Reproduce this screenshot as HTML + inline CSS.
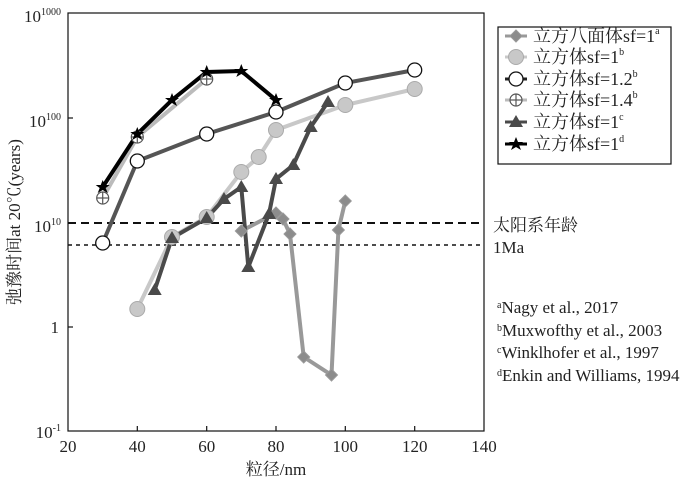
<!DOCTYPE html>
<html><head><meta charset="utf-8"><style>
html,body{margin:0;padding:0;background:#fff}
svg{display:block}
text{font-family:"Liberation Serif","Noto Serif CJK SC",serif;fill:#222}
</style></head><body>
<svg width="700" height="482" viewBox="0 0 700 482" xmlns="http://www.w3.org/2000/svg">
<defs>
<g id="dia"><polygon points="0,-6 6,0 0,6 -6,0" fill="#8c8c8c" stroke="#999" stroke-width="1"/></g>
<g id="lc"><circle r="7.5" fill="#c8c8c8" stroke="#aaa" stroke-width="1"/></g>
<g id="oc"><circle r="7" fill="#fff" stroke="#111" stroke-width="1.3"/></g>
<g id="pc"><circle r="6" fill="#fff" stroke="#555" stroke-width="1.2"/><line x1="-6" y1="0" x2="6" y2="0" stroke="#555" stroke-width="1.2"/><line x1="0" y1="-6" x2="0" y2="6" stroke="#555" stroke-width="1.2"/></g>
<g id="tri"><polygon points="0,-7 7,5 -7,5" fill="#4a4a4a"/></g>
<g id="star"><polygon points="0,-7 2,-2 7,-2 3,1 5,6 0,3 -5,6 -3,1 -7,-2 -2,-2" fill="#000"/></g>
</defs>
<rect x="68" y="13" width="416" height="418" fill="none" stroke="#111" stroke-width="1.2"/>
<g stroke="#111" stroke-width="1.2">
<line x1="68" y1="118" x2="73" y2="118"/><line x1="68" y1="223" x2="73" y2="223"/><line x1="68" y1="327" x2="73" y2="327"/>
<line x1="137.3" y1="431" x2="137.3" y2="426"/><line x1="206.7" y1="431" x2="206.7" y2="426"/><line x1="276" y1="431" x2="276" y2="426"/><line x1="345.3" y1="431" x2="345.3" y2="426"/><line x1="414.7" y1="431" x2="414.7" y2="426"/>
</g>
<g font-size="17" text-anchor="end">
<text x="61" y="22">10<tspan font-size="10" dy="-7">1000</tspan></text>
<text x="61" y="127">10<tspan font-size="10" dy="-7">100</tspan></text>
<text x="61" y="232">10<tspan font-size="10" dy="-7">10</tspan></text>
<text x="59" y="333">1</text>
<text x="61" y="438">10<tspan font-size="10" dy="-7">-1</tspan></text>
</g>
<g font-size="17" text-anchor="middle">
<text x="68" y="452">20</text><text x="137.3" y="452">40</text><text x="206.7" y="452">60</text><text x="276" y="452">80</text><text x="345.3" y="452">100</text><text x="414.7" y="452">120</text><text x="484" y="452">140</text>
<text x="276" y="475">粒径/nm</text>
</g>
<text transform="translate(20,222) rotate(-90)" font-size="17" text-anchor="middle">弛豫时间at 20℃(years)</text>
<line x1="68" y1="223" x2="484" y2="223" stroke="#111" stroke-width="2" stroke-dasharray="8,5"/>
<line x1="68" y1="245" x2="484" y2="245" stroke="#111" stroke-width="1.5" stroke-dasharray="4,4"/>
<polyline fill="none" stroke="#c8c8c8" stroke-width="4" points="137.3,309 172,237 206.7,217 241.3,172 258.7,157 276,130 345.3,105 414.7,89"/>
<polyline fill="none" stroke="#bbb" stroke-width="4" points="102.7,198 137.3,137 206.7,79"/>
<polyline fill="none" stroke="#555" stroke-width="4" points="102.7,243 137.3,161 206.7,134 276,112 345.3,83 414.7,70"/>
<polyline fill="none" stroke="#999" stroke-width="4" points="241.3,231 276,213 283,219 290,234 303.7,357 331.5,375 338.4,230 345.3,201"/>
<polyline fill="none" stroke="#4a4a4a" stroke-width="4" points="154.7,290 172,238 206.7,218 224,199 241.3,187 248.3,267 269,214 276,179 293.3,165 310.7,127 328,102"/>
<polyline fill="none" stroke="#000" stroke-width="4" points="102.7,187 137.3,134 172,100 206.7,72 241.3,71 276,100"/>
<g>
<use href="#lc" x="137.3" y="309"/><use href="#lc" x="172" y="237"/><use href="#lc" x="206.7" y="217"/><use href="#lc" x="241.3" y="172"/><use href="#lc" x="258.7" y="157"/><use href="#lc" x="276" y="130"/><use href="#lc" x="345.3" y="105"/><use href="#lc" x="414.7" y="89"/>
<use href="#pc" x="102.7" y="198"/><use href="#pc" x="137.3" y="137"/><use href="#pc" x="206.7" y="79"/>
<use href="#oc" x="102.7" y="243"/><use href="#oc" x="137.3" y="161"/><use href="#oc" x="206.7" y="134"/><use href="#oc" x="276" y="112"/><use href="#oc" x="345.3" y="83"/><use href="#oc" x="414.7" y="70"/>
<use href="#dia" x="241.3" y="231"/><use href="#dia" x="276" y="213"/><use href="#dia" x="283" y="219"/><use href="#dia" x="290" y="234"/><use href="#dia" x="303.7" y="357"/><use href="#dia" x="331.5" y="375"/><use href="#dia" x="338.4" y="230"/><use href="#dia" x="345.3" y="201"/>
<use href="#tri" x="154.7" y="290"/><use href="#tri" x="172" y="238"/><use href="#tri" x="206.7" y="218"/><use href="#tri" x="224" y="199"/><use href="#tri" x="241.3" y="187"/><use href="#tri" x="248.3" y="267"/><use href="#tri" x="269" y="214"/><use href="#tri" x="276" y="179"/><use href="#tri" x="293.3" y="165"/><use href="#tri" x="310.7" y="127"/><use href="#tri" x="328" y="102"/>
<use href="#star" x="102.7" y="187"/><use href="#star" x="137.3" y="134"/><use href="#star" x="172" y="100"/><use href="#star" x="206.7" y="72"/><use href="#star" x="241.3" y="71"/><use href="#star" x="276" y="100"/>
</g>
<rect x="498" y="27" width="173" height="137" fill="#fff" stroke="#111" stroke-width="1.2"/>
<g>
<line x1="505" y1="36" x2="527" y2="36" stroke="#999" stroke-width="3"/><use href="#dia" x="516" y="36"/>
<line x1="505" y1="57" x2="527" y2="57" stroke="#c8c8c8" stroke-width="3"/><use href="#lc" x="516" y="57"/>
<line x1="505" y1="79" x2="527" y2="79" stroke="#222" stroke-width="3"/><use href="#oc" x="516" y="79"/>
<line x1="505" y1="100" x2="527" y2="100" stroke="#bbb" stroke-width="3"/><use href="#pc" x="516" y="100"/>
<line x1="505" y1="122" x2="527" y2="122" stroke="#4a4a4a" stroke-width="3"/><use href="#tri" x="516" y="122"/>
<line x1="505" y1="144" x2="527" y2="144" stroke="#000" stroke-width="3"/><use href="#star" x="516" y="144"/>
</g>
<g font-size="18">
<text x="533" y="42">立方八面体sf=1<tspan font-size="10" dy="-8">a</tspan></text>
<text x="533" y="63">立方体sf=1<tspan font-size="10" dy="-8">b</tspan></text>
<text x="533" y="85">立方体sf=1.2<tspan font-size="10" dy="-8">b</tspan></text>
<text x="533" y="106">立方体sf=1.4<tspan font-size="10" dy="-8">b</tspan></text>
<text x="533" y="128">立方体sf=1<tspan font-size="10" dy="-8">c</tspan></text>
<text x="533" y="150">立方体sf=1<tspan font-size="10" dy="-8">d</tspan></text>
</g>
<g font-size="17">
<text x="493" y="231">太阳系年龄</text>
<text x="493" y="253">1Ma</text>
<text x="497" y="313"><tspan font-size="10" dy="-5">a</tspan><tspan dy="5">Nagy et al., 2017</tspan></text>
<text x="497" y="336"><tspan font-size="10" dy="-5">b</tspan><tspan dy="5">Muxwofthy et al., 2003</tspan></text>
<text x="497" y="358"><tspan font-size="10" dy="-5">c</tspan><tspan dy="5">Winklhofer et al., 1997</tspan></text>
<text x="497" y="381"><tspan font-size="10" dy="-5">d</tspan><tspan dy="5">Enkin and Williams, 1994</tspan></text>
</g>
</svg>
</body></html>
